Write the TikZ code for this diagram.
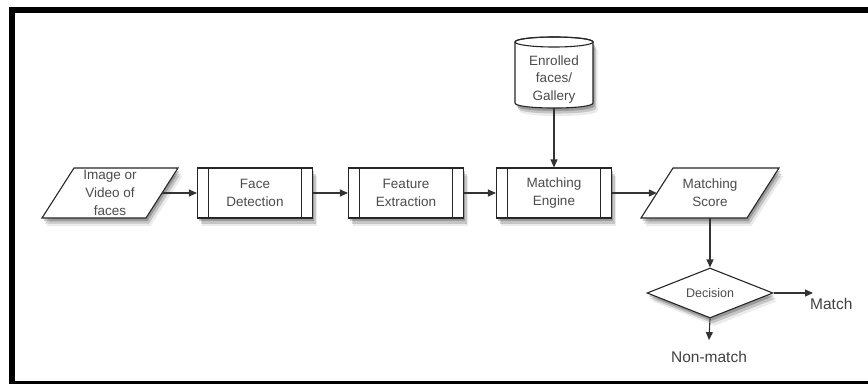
\documentclass[tikz,border=0pt]{standalone}
\usepackage{fontspec}
\setmainfont{Liberation Sans}
\usetikzlibrary{shapes.geometric,arrows.meta,shadows}
\begin{document}
\begin{tikzpicture}[x=1pt,y=-1pt,
  shad/.style={
    drop shadow={shadow xshift=1.5pt,shadow yshift=-3pt,opacity=0.22,fill=black},
    drop shadow={shadow xshift=3pt,shadow yshift=-5.5pt,opacity=0.16,fill=black},
    drop shadow={shadow xshift=4.5pt,shadow yshift=-8pt,opacity=0.08,fill=black}},
  txt/.style={font=\fontsize{13.5}{18}\selectfont, text=black!70, align=center},
  lbl/.style={font=\fontsize{15.5}{18}\selectfont, text=black!75, inner sep=0pt},
  outline/.style={draw=black!85, line width=1.1pt, fill=white, shad},
  proc/.style={outline, rectangle, minimum width=115pt, minimum height=50pt, inner sep=0pt, txt,
    path picture={\draw[black!85, line width=1.1pt]
      ([xshift=11pt]path picture bounding box.north west) -- ([xshift=11pt]path picture bounding box.south west)
      ([xshift=-11pt]path picture bounding box.north east) -- ([xshift=-11pt]path picture bounding box.south east);}},
  io/.style={rectangle, minimum width=104pt, minimum height=50pt, inner sep=0pt, txt},
  conn/.style={draw=black!80, line width=1.1pt, -{Triangle[length=8pt,width=7pt]}},
  frame/.style={draw=black, line cap=butt}
]
\useasboundingbox (0,0) rectangle (868,384);
% frame
\draw[frame, line width=6pt] (868,10) -- (12,10) -- (12,384);
\draw[frame, line width=2.5pt] (9,382.5) -- (868,382.5);

% input parallelogram
\path[outline] (74,168) -- (178,168) -- (146,218) -- (42,218) -- cycle;
\node[io] (img) at (110,193) {Image or\\Video of\\faces};

% process boxes
\node[proc] (fd) at (255,193) {Face\\Detection};
\node[proc] (fe) at (406,193) {Feature\\Extraction};
\node[proc] (me) at (554,193) {Matching\\Engine};

% output parallelogram
\path[outline] (673,168) -- (779,168) -- (747,218) -- (641,218) -- cycle;
\node[io, minimum width=106pt] (score) at (710,193) {Matching\\Score};

% gallery cylinder
\path[outline] (515,42) -- (515,103) .. controls (515,109.7) and (593,109.7) .. (593,103)
  -- (593,42) .. controls (593,35.3) and (515,35.3) .. (515,42) -- cycle;
\draw[draw=black!85, line width=1.1pt] (554,42) ellipse [x radius=39pt, y radius=5pt];
\node[txt, inner sep=0pt, minimum width=78pt, minimum height=57pt, font=\fontsize{13.5}{17.5}\selectfont] (gal) at (554,79.5) {Enrolled\\faces/\\Gallery};

% decision
\node[outline, diamond, aspect=2.5, minimum width=126pt, minimum height=50pt, inner sep=0pt, txt, font=\fontsize{12.5}{15}\selectfont] (dec) at (710,293) {Decision};

% outcomes
\node[lbl, anchor=west] (match) at (810,304) {Match};
\coordinate (mtip) at (813,293);
\node[lbl] (nm) at (709,357) {Non-match};

% connectors
\draw[conn] (img.east) -- (fd.west);
\draw[conn] (fd.east) -- (fe.west);
\draw[conn] (fe.east) -- (me.west);
\draw[conn] (me.east) -- (score.west);
\draw[conn] (gal.south) -- (me.north);
\draw[conn] (score.south) -- (dec.north);
\draw[conn] (dec.east) -- (mtip);
\draw[conn] (dec.south) -- ([yshift=11pt]nm.north);
\end{tikzpicture}
\end{document}
